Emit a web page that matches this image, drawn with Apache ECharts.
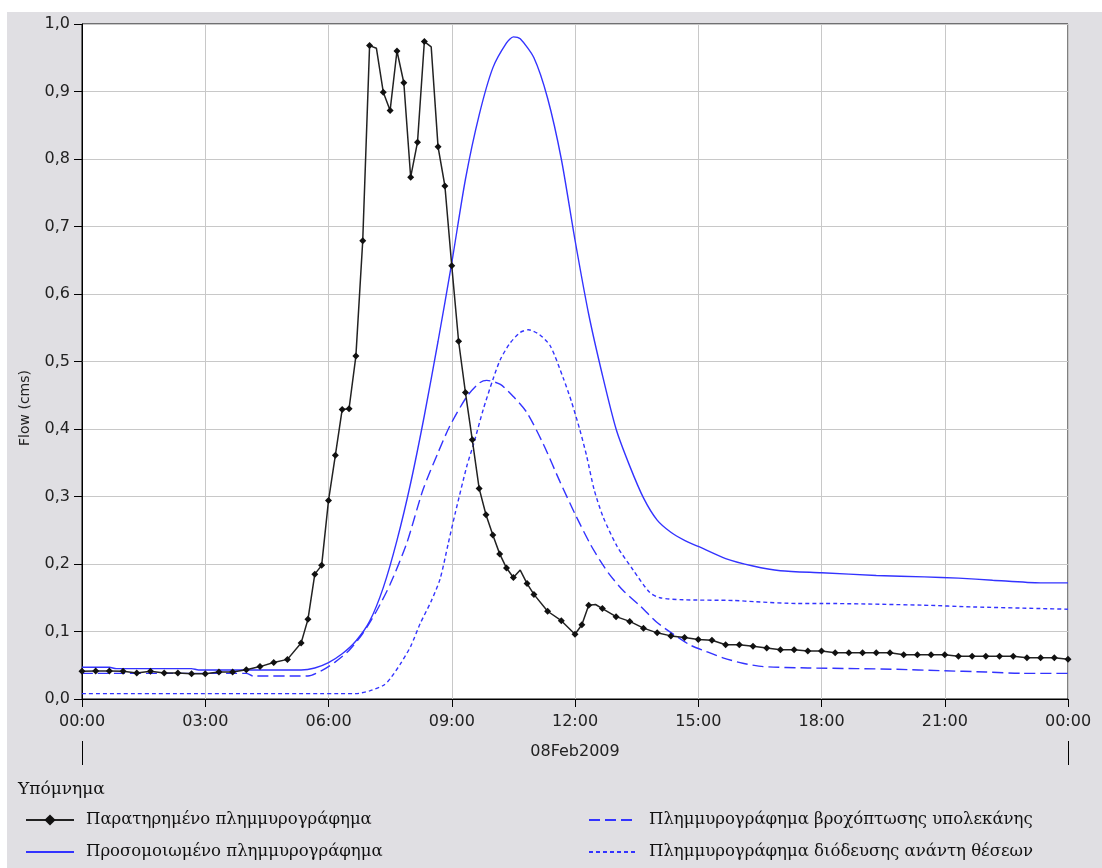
<!DOCTYPE html>
<html>
<head>
<meta charset="utf-8">
<script src="https://cdn.jsdelivr.net/npm/echarts@6/dist/echarts.min.js"></script>
<style>
  html, body { margin: 0; padding: 0; background: #ffffff; }
  #chart { position: absolute; left: 7px; top: 12px; width: 1095px; height: 856px; background: #e0dfe3; }
</style>
</head>
<body>
<div id="chart"></div>
<script>
// ---- Data (time in minutes from 08Feb2009 00:00, flow in cms) ----
const obsTime = [0,20,40,60,80,100,120,140,160,180,200,220,240,260,280,300,320,330,340,350,360,370,380,390,400,410,420,430,440,450,460,470,480,490,500,510,520,530,540,550,560,570,580,590,600,610,620,630,640,650,660,680,700,720,730,740,750,760,780,800,820,840,860,880,900,920,940,960,980,1000,1020,1040,1060,1080,1100,1120,1140,1160,1180,1200,1220,1240,1260,1280,1300,1320,1340,1360,1380,1400,1420,1440];
const obsFlow = [0.041,0.0413,0.0413,0.041,0.0385,0.041,0.0385,0.0385,0.0375,0.0375,0.040,0.040,0.0434,0.048,0.054,0.0587,0.083,0.118,0.185,0.198,0.294,0.361,0.429,0.430,0.508,0.679,0.968,0.964,0.899,0.872,0.960,0.913,0.773,0.825,0.974,0.966,0.818,0.760,0.642,0.530,0.454,0.384,0.312,0.273,0.243,0.215,0.194,0.180,0.191,0.171,0.155,0.130,0.116,0.096,0.110,0.139,0.140,0.134,0.122,0.115,0.105,0.098,0.0935,0.091,0.088,0.087,0.0805,0.0805,0.078,0.0755,0.073,0.073,0.071,0.071,0.0686,0.0686,0.0686,0.0686,0.0686,0.0657,0.0657,0.0657,0.0657,0.0632,0.0632,0.0632,0.0632,0.0632,0.0612,0.0612,0.0612,0.059];
const obsUnmarkedTimes = [430, 510, 640, 750];

const simTime = [0,40,50,160,170,320,340,360,380,400,420,440,460,480,500,520,540,560,580,600,620,630,640,660,680,700,720,740,760,780,800,820,840,860,880,900,940,980,1020,1080,1160,1230,1280,1330,1400,1440];
const simFlow = [0.047,0.047,0.045,0.045,0.043,0.043,0.046,0.054,0.067,0.086,0.115,0.165,0.235,0.32,0.42,0.53,0.646,0.77,0.865,0.935,0.972,0.981,0.978,0.95,0.89,0.80,0.68,0.57,0.48,0.40,0.345,0.298,0.265,0.247,0.235,0.226,0.208,0.197,0.19,0.187,0.183,0.181,0.179,0.176,0.172,0.172];

const rainTime = [0,240,250,330,350,370,390,410,430,450,474,498,520,537,562,580,591,611,630,650,674,698,722,742,756,770,790,815,839,865,888,910,936,965,995,1060,1131,1190,1253,1320,1374,1440];
const rainFlow = [0.038,0.038,0.034,0.034,0.042,0.055,0.072,0.097,0.13,0.17,0.23,0.31,0.365,0.404,0.448,0.468,0.472,0.466,0.448,0.424,0.377,0.322,0.27,0.23,0.206,0.185,0.161,0.138,0.114,0.095,0.08,0.071,0.061,0.053,0.048,0.046,0.045,0.044,0.042,0.040,0.038,0.038];

const routeTime = [0,400,420,440,450,465,480,494,510,523,535,545,562,572,586,600,611,625,640,652,668,684,703,715,727,737,748,761,781,805,829,844,878,951,985,1045,1082,1228,1301,1400,1440];
const routeFlow = [0.008,0.008,0.012,0.02,0.03,0.052,0.078,0.112,0.145,0.178,0.231,0.275,0.345,0.378,0.429,0.473,0.503,0.527,0.543,0.547,0.54,0.523,0.475,0.44,0.399,0.36,0.31,0.27,0.227,0.191,0.158,0.15,0.147,0.146,0.144,0.1415,0.1415,0.139,0.1364,0.134,0.133];

const xTickMinutes = [0,180,360,540,720,900,1080,1260,1440];
const yTicks = [0,0.1,0.2,0.3,0.4,0.5,0.6,0.7,0.8,0.9,1.0];
const dateLabel = '08Feb2009';
const seriesNames = ['Παρατηρημένο πλημμυρογράφημα','Προσομοιωμένο πλημμυρογράφημα','Πλημμυρογράφημα βροχόπτωσης υπολεκάνης','Πλημμυρογράφημα διόδευσης ανάντη θέσεων'];
const legendTitle = 'Υπόμνημα';
const yName = 'Flow (cms)';

// ---- Build ----
const pairs = (t, v) => t.map((x, i) => [x, v[i]]);
const obsData = obsTime.map((t, i) => obsUnmarkedTimes.includes(t)
  ? { value: [t, obsFlow[i]], symbol: 'none' }
  : [t, obsFlow[i]]);

function fmtTime(m) {
  const h = Math.floor((m % 1440) / 60), mm = m % 60;
  return String(h).padStart(2, '0') + ':' + String(mm).padStart(2, '0');
}

const sansFont = 'DejaVu Sans';
const serifFont = 'DejaVu Serif';
const blue = '#3333ff';
const noSym = { color: 'rgba(0,0,0,0)', borderWidth: 0, opacity: 0 };
const legendText = { fontFamily: serifFont, fontSize: 16.5, color: '#111', lineHeight: 18, padding: [0, 0, 0, 7] };

const chart = echarts.init(document.getElementById('chart'), null, { renderer: 'canvas' });
chart.setOption({
  backgroundColor: '#e0dfe3',
  animation: false,
  title: {
    text: legendTitle, left: 11, top: 769, padding: 0,
    textStyle: { fontFamily: serifFont, fontSize: 17, fontWeight: 'normal', color: '#111' }
  },
  graphic: [{
    type: 'text', x: 18, y: 396, rotation: Math.PI / 2,
    style: { text: yName, fontFamily: sansFont, fontSize: 14, fill: '#222', textAlign: 'center', textVerticalAlign: 'middle' }
  }],
  legend: [
    { orient: 'vertical', left: 18, top: 799, padding: 0, itemWidth: 48, itemHeight: 14, itemGap: 14,
      data: [{ name: seriesNames[0] }, { name: seriesNames[1], itemStyle: noSym }],
      textStyle: legendText },
    { orient: 'vertical', left: 581, top: 799, padding: 0, itemWidth: 48, itemHeight: 14, itemGap: 14,
      data: [{ name: seriesNames[2], itemStyle: noSym }, { name: seriesNames[3], itemStyle: noSym }],
      textStyle: legendText }
  ],
  grid: { left: 75, right: 34, top: 12, bottom: 169, show: true, backgroundColor: '#ffffff', borderColor: '#000', borderWidth: 1 },
  xAxis: [{
    type: 'value', min: xTickMinutes[0], max: xTickMinutes[xTickMinutes.length - 1], interval: 180,
    axisLine: { show: true, lineStyle: { color: '#000', width: 1 } },
    axisTick: { show: true, length: 8, lineStyle: { color: '#000' } },
    splitLine: { show: true, lineStyle: { color: '#c8c8c8', width: 1 } },
    axisLabel: { margin: 15, formatter: v => fmtTime(v), fontFamily: sansFont, fontSize: 16, color: '#222' }
  }, {
    type: 'value', position: 'bottom', offset: 42, min: 0, max: 1440, interval: 1440,
    axisLine: { show: false },
    axisTick: { show: true, length: 24, lineStyle: { color: '#000' } },
    splitLine: { show: false },
    axisLabel: { show: false },
    name: dateLabel, nameLocation: 'middle', nameGap: 3,
    nameTextStyle: { fontFamily: sansFont, fontSize: 16, color: '#222', verticalAlign: 'top' }
  }],
  yAxis: {
    type: 'value', min: yTicks[0], max: yTicks[yTicks.length - 1], interval: 0.1,
    axisLine: { show: true, lineStyle: { color: '#000', width: 1 } },
    axisTick: { show: true, length: 8, lineStyle: { color: '#000' } },
    splitLine: { show: true, lineStyle: { color: '#c8c8c8', width: 1 } },
    axisLabel: { margin: 12, formatter: v => v.toFixed(1).replace('.', ','), fontFamily: sansFont, fontSize: 16, color: '#222' }
  },
  series: [
    { name: seriesNames[0], type: 'line', xAxisIndex: 0, data: obsData,
      symbol: 'diamond', symbolSize: 7, showAllSymbol: true,
      itemStyle: { color: '#111' }, lineStyle: { color: '#222', width: 1.5 }, z: 5 },
    { name: seriesNames[1], type: 'line', xAxisIndex: 0, data: pairs(simTime, simFlow),
      symbol: 'none', smooth: 0.25,
      itemStyle: { color: blue }, lineStyle: { color: blue, width: 1.4 } },
    { name: seriesNames[2], type: 'line', xAxisIndex: 0, data: pairs(rainTime, rainFlow),
      symbol: 'none', smooth: 0.25,
      itemStyle: { color: blue }, lineStyle: { color: blue, width: 1.4, type: [11, 5] } },
    { name: seriesNames[3], type: 'line', xAxisIndex: 0, data: pairs(routeTime, routeFlow),
      symbol: 'none', smooth: 0.25,
      itemStyle: { color: blue }, lineStyle: { color: blue, width: 1.4, type: [4, 3] } }
  ]
});
</script>
</body>
</html>
